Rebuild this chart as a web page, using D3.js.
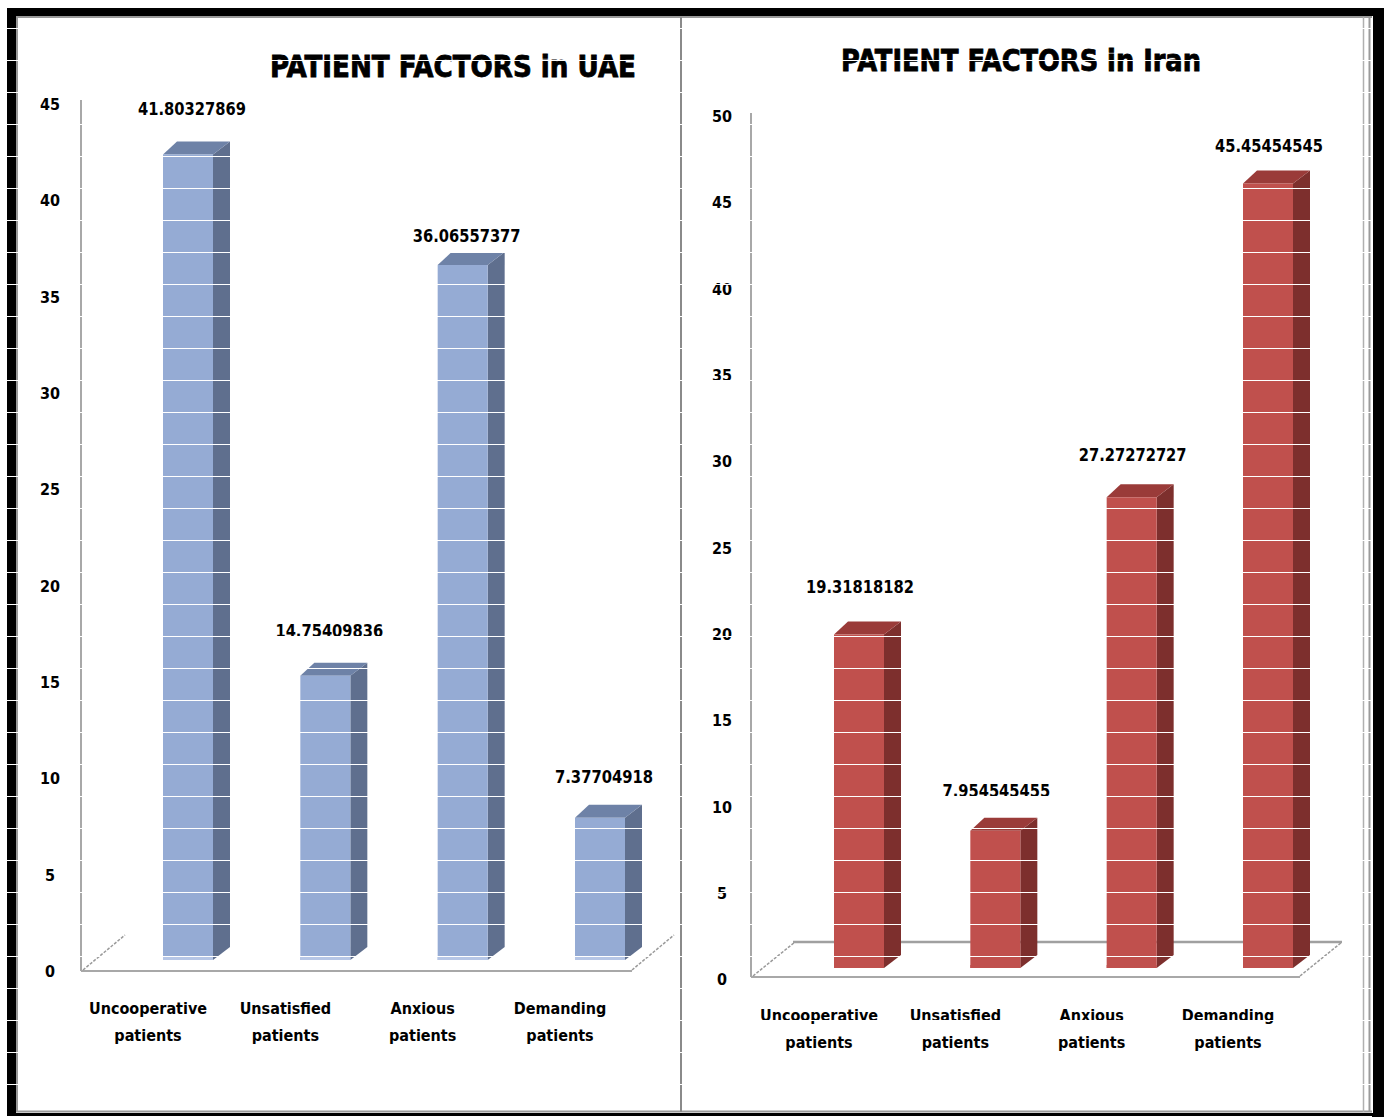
<!DOCTYPE html>
<html>
<head>
<meta charset="utf-8">
<script src="https://cdn.jsdelivr.net/npm/d3@7"></script>
<style>
  html, body { margin: 0; padding: 0; background: #fff; }
  svg { display: block; }
  text { font-family: "Liberation Sans Narrow", "Arial Narrow", "DejaVu Sans Condensed", "Liberation Sans", sans-serif; font-weight: bold; fill: #000; }
</style>
</head>
<body>
<svg id="chart" width="1384" height="1117"></svg>
<script>
// Shared categories (two-line labels under each bar)
const categories = ["Uncooperative patients", "Unsatisfied patients", "Anxious patients", "Demanding patients"];

// Patient factors, UAE (percent)
const uaeValues = [41.80327869, 14.75409836, 36.06557377, 7.37704918];
const uaeLabels = ["41.80327869", "14.75409836", "36.06557377", "7.37704918"];
const uaeTicks = [0, 5, 10, 15, 20, 25, 30, 35, 40, 45];

// Patient factors, Iran (percent)
const iranValues = [19.31818182, 7.954545455, 27.27272727, 45.45454545];
const iranLabels = ["19.31818182", "7.954545455", "27.27272727", "45.45454545"];
const iranTicks = [0, 5, 10, 15, 20, 25, 30, 35, 40, 45, 50];

const svg = d3.select("#chart");

// ---- outer frame -------------------------------------------------------
const frame = svg.append("g");
frame.append("rect").attr("x", 7).attr("y", 8).attr("width", 1377).attr("height", 8).attr("fill", "#000");
frame.append("rect").attr("x", 7).attr("y", 8).attr("width", 9).attr("height", 1109).attr("fill", "#000");
frame.append("rect").attr("x", 1373).attr("y", 15).attr("width", 11).attr("height", 1102).attr("fill", "#000");
frame.append("rect").attr("x", 7).attr("y", 1113).attr("width", 1377).attr("height", 4).attr("fill", "#000");
frame.append("line").attr("x1", 16).attr("x2", 1372).attr("y1", 17).attr("y2", 17).attr("stroke", "#9a9a9a").attr("stroke-width", 2);
frame.append("line").attr("x1", 17).attr("x2", 17).attr("y1", 16).attr("y2", 1112).attr("stroke", "#9a9a9a").attr("stroke-width", 2);
frame.append("line").attr("x1", 16).attr("x2", 1372).attr("y1", 1111.5).attr("y2", 1111.5).attr("stroke", "#9a9a9a").attr("stroke-width", 2);
frame.append("line").attr("x1", 1363.5).attr("x2", 1363.5).attr("y1", 17).attr("y2", 1112).attr("stroke", "#b0b0b0").attr("stroke-width", 1.5);
frame.append("line").attr("x1", 1369.5).attr("x2", 1369.5).attr("y1", 17).attr("y2", 1112).attr("stroke", "#9a9a9a").attr("stroke-width", 2);
frame.append("line").attr("x1", 681).attr("x2", 681).attr("y1", 17).attr("y2", 1112).attr("stroke", "#8a8a8a").attr("stroke-width", 2);

// ---- one 3-D column panel ----------------------------------------------
function panel(cfg) {
  const g = svg.append("g");
  const y = d3.scaleLinear().domain(cfg.domain).range([cfg.base, cfg.top]);
  const yAxisScale = d3.scaleLinear().domain(cfg.domain).range([cfg.base + cfg.tickShift, cfg.top + cfg.tickShift]);
  const x = d3.scalePoint().domain(categories).range(cfg.xRange);
  const half = 25, dx = 17, dy = 13;

  // title
  g.append("text")
    .attr("x", cfg.titleX).attr("y", cfg.titleY)
    .attr("text-anchor", "middle")
    .attr("font-size", 31)
    .attr("stroke", "#000").attr("stroke-width", 0.8)
    .attr("textLength", cfg.titleW).attr("lengthAdjust", "spacingAndGlyphs")
    .text(cfg.title);

  // value axis labels
  const yAxis = d3.axisLeft(yAxisScale).tickValues(cfg.ticks).tickSize(0).tickPadding(0);
  const ax = g.append("g").attr("transform", `translate(${cfg.tickX},0)`).call(yAxis);
  ax.select(".domain").remove();
  ax.selectAll("text")
    .attr("text-anchor", "middle").attr("x", 0).attr("dy", "0.35em")
    .attr("font-size", 16);
  ax.attr("font-family", null).attr("font-size", null);

  // walls and floor
  const lc = "#a8a8a8";
  g.append("line").attr("x1", cfg.axisX).attr("x2", cfg.axisX)
    .attr("y1", cfg.axisTop).attr("y2", cfg.floorFront)
    .attr("stroke", lc).attr("stroke-width", 2);
  g.append("line").attr("x1", cfg.axisX).attr("x2", cfg.floorRight)
    .attr("y1", cfg.floorFront).attr("y2", cfg.floorFront)
    .attr("stroke", lc).attr("stroke-width", 2);
  [cfg.axisX + 2, cfg.floorRight].forEach(x0 => {
    g.append("line").attr("x1", x0).attr("y1", cfg.floorFront - 1)
      .attr("x2", x0 + cfg.floorDx).attr("y2", cfg.floorBack)
      .attr("stroke", "#9a9a9a").attr("stroke-width", 1.5).attr("stroke-dasharray", "3,1.5");
  });
  if (cfg.backEdge) {
    g.append("line").attr("x1", cfg.axisX + cfg.floorDx).attr("x2", cfg.floorRight + cfg.floorDx)
      .attr("y1", cfg.floorBack).attr("y2", cfg.floorBack)
      .attr("stroke", "#a0a0a0").attr("stroke-width", 2.5);
  }

  // columns
  const bars = g.selectAll("g.bar").data(cfg.values).join("g").attr("class", "bar");
  bars.each(function (v, i) {
    const b = d3.select(this);
    const cx = x(categories[i]);
    const yt = y(v), yb = y(0);
    const l = cx - half, r = cx + half;
    b.append("path")
      .attr("d", `M${r},${yt} L${r + dx},${yt - dy} L${r + dx},${yb - dy} L${r},${yb} Z`)
      .attr("fill", cfg.side);
    b.append("path")
      .attr("d", `M${l},${yt} L${l + dx - 3},${yt - dy} L${r + dx},${yt - dy} L${r},${yt} Z`)
      .attr("fill", cfg.topc);
    b.append("rect").attr("x", l).attr("y", yt).attr("width", half * 2).attr("height", yb - yt)
      .attr("fill", cfg.front);
    b.append("rect").attr("x", l).attr("y", yb - 3).attr("width", half * 2).attr("height", 3)
      .attr("fill", cfg.baseStrip);
  });

  // data labels
  g.selectAll("text.val").data(cfg.values).join("text").attr("class", "val")
    .attr("x", (v, i) => x(categories[i]) + cfg.labelDx)
    .attr("y", (v, i) => y(v) - cfg.labelDy[i])
    .attr("text-anchor", "middle").attr("font-size", 18)
    .attr("textLength", (v, i) => cfg.labels[i].length * 9.8).attr("lengthAdjust", "spacingAndGlyphs")
    .text((v, i) => cfg.labels[i]);

  // category labels
  const cat = g.selectAll("text.cat").data(categories).join("text").attr("class", "cat")
    .attr("x", d => x(d) + cfg.catDx)
    .attr("y", cfg.catY)
    .attr("text-anchor", "middle").attr("font-size", 16);
  cat.selectAll("tspan").data(d => d.split(" ")).join("tspan")
    .attr("x", function () { return d3.select(this.parentNode).attr("x"); })
    .attr("dy", (d, j) => j === 0 ? 0 : 27)
    .text(d => d);
}

panel({
  title: "PATIENT FACTORS in UAE", titleX: 453, titleY: 77, titleW: 366,
  values: uaeValues, labels: uaeLabels, ticks: uaeTicks, domain: [0, 45],
  base: 960, top: 960 - 19.27 * 45, tickShift: 11, tickX: 50,
  xRange: [188, 600],
  axisX: 81, axisTop: 100, floorFront: 971, floorRight: 632, floorDx: 42, floorBack: 935, backEdge: false,
  front: "#95abd4", side: "#5f6f8e", topc: "#6e82a7", baseStrip: "#b6c6e6",
  labelDx: 4, labelDy: [39, 39, 23, 35], catDx: -40, catY: 1014
});

panel({
  title: "PATIENT FACTORS in Iran", titleX: 1021, titleY: 71, titleW: 360,
  values: iranValues, labels: iranLabels, ticks: iranTicks, domain: [0, 50],
  base: 968, top: 968 - 17.26 * 50, tickShift: 11, tickX: 722,
  xRange: [859, 1268],
  axisX: 751, axisTop: 113, floorFront: 977, floorRight: 1300, floorDx: 42, floorBack: 942, backEdge: true,
  front: "#c0504d", side: "#7d2f2d", topc: "#9a3b39", baseStrip: "#c0504d",
  labelDx: 1, labelDy: [42, 34, 36, 31], catDx: -40, catY: 1021
});

// ---- fine white rules running across the whole sheet ----------------------
svg.append("g").selectAll("line").data(d3.range(28, 1117, 32)).join("line")
  .attr("x1", 0).attr("x2", 1372)
  .attr("y1", d => d + 0.5).attr("y2", d => d + 0.5)
  .attr("stroke", "#fff").attr("stroke-width", 1);
</script>
</body>
</html>
